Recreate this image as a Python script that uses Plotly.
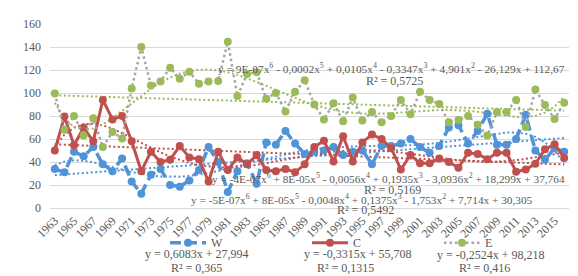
import numpy as np
import plotly.graph_objects as go

years = list(range(1963, 2017))

W = [34, 31, 49, 45, 53, 38, 32, 43, 23, 12.5, 29, 34, 20, 18.5, 24, 33, 53, 40, 14, 32,
     39, 21, 57, 55, 67, 56, 47, 49, 50, 53, 46, 49, 50, 38, 54, 54, 56, 60, 53, 48,
     54, 70, 72, 56, 67, 82, 55, 55, 60, 81, 50, 42, 52, 49]
C = [50, 79.5, 54.5, 70, 58, 94, 77, 80, 58, 32, 49, 40, 42, 54, 44, 42.5, 23, 49, 33, 44,
     38, 46, 33, 32, 34, 31, 38, 53, 58.5, 40.5, 62.5, 40.5, 57, 64, 60, 52, 33.5, 46, 39, 39,
     43, 40, 35, 48, 47, 42.5, 48, 48, 31.5, 33.5, 38.5, 51, 55.5, 43.5]
E = [99.5, 68, 80, 63, 78, 53, 66, 60.5, 104, 140, 106.5, 110, 122, 112.5, 118.5, 108, 110, 110.5, 144.5, 97.5,
     116.5, 118, 95, 100, 84, 101, 111, 90, 77, 91, 75.5, 96, 76, 83.5, 74.5, 80, 94, 81.5, 101, 94,
     90.5, 74.5, 76.5, 80, 72.5, 63, 83.5, 83.5, 94, 70.5, 103, 89.5, 77.5, 91.5]

# printed linear trend coefficients (slope, intercept), x = 1..54
lin_W = [0.6083, 27.994]
lin_C = [-0.3315, 55.708]
lin_E = [-0.2524, 98.218]

tick_years = years[::2]
y_ticks = [0, 20, 40, 60, 80, 100, 120, 140, 160]

BLUE = '#5093D6'
RED = '#C0504D'
GREEN = '#9BBB59'
GRAY = '#A6A6A6'
TXT = '#595959'
FONT = 'Liberation Serif'

xi = np.arange(1, len(years) + 1)

def poly6(vals):
    p = np.polynomial.Polynomial.fit(xi, vals, 6)
    return p(xi)

def lin(coef):
    return coef[0] * xi + coef[1]

fig = go.Figure()

# trendlines
for vals, coef, col in [(W, lin_W, BLUE), (C, lin_C, RED), (E, lin_E, GREEN)]:
    fig.add_trace(go.Scatter(x=years, y=lin(coef), mode='lines', showlegend=False,
                             line=dict(color=col, width=2, dash='2px,2.5px'), hoverinfo='skip'))
    fig.add_trace(go.Scatter(x=years, y=poly6(vals), mode='lines', showlegend=False,
                             line=dict(color=col, width=2, dash='2px,2.5px'), hoverinfo='skip'))

fig.add_trace(go.Scatter(x=years, y=W, name='W', mode='lines+markers', legend='legend',
                         line=dict(color=BLUE, width=3.5, dash='11px,5px'),
                         marker=dict(color=BLUE, size=8)))
fig.add_trace(go.Scatter(x=years, y=C, name='C', mode='lines+markers', legend='legend2',
                         line=dict(color=RED, width=3),
                         marker=dict(color=RED, size=8)))
fig.add_trace(go.Scatter(x=years, y=E, name='E', mode='lines+markers', legend='legend3',
                         line=dict(color=GRAY, width=2.5, dash='2.5px,3px'),
                         marker=dict(color=GREEN, size=8)))

L, R, T, B = 42, 17, 9, 76
W_PX, H_PX = 578 - L - R, 276 - T - B

def px(x):
    return (x - L) / W_PX

def py(y):
    return (276 - B - y) / H_PX

# (text, x, y, anchor, size, xshift)
ann = [
    ("y = 9E-07x<sup>6</sup> - 0,0002x<sup>5</sup> + 0,0105x<sup>4</sup> - 0,3347x<sup>3</sup> + 4,901x<sup>2</sup> - 26,129x + 112,67", 570, 54.7, 'right', 11.4, -11),
    ("R² = 0,5725", 386, 68.3, 'center', 12, 0),
    ("y = -4E-07x<sup>6</sup> + 8E-05x<sup>5</sup> - 0,0056x<sup>4</sup> + 0,1935x<sup>3</sup> - 3,0936x<sup>2</sup> + 18,299x + 37,764", 570, 169, 'right', 11.3, -11),
    ("R² = 0,5169", 384, 181.5, 'center', 12, 0),
    ("y = -5E-07x<sup>6</sup> + 8E-05x<sup>5</sup> - 0,0048x<sup>4</sup> + 0,1375x<sup>3</sup> - 1,753x<sup>2</sup> + 7,714x + 30,305", 538, 190.5, 'right', 11.3, -11),
    ("R² = 0,5492", 357, 202, 'center', 12, 0),
    ("y = 0,6083x + 27,994", 189, 248, 'center', 12, 0),
    ("R² = 0,365", 188, 262, 'center', 12, 0),
    ("y = -0,3315x + 55,708", 350, 248, 'center', 12, 0),
    ("R² = 0,1315", 337, 262, 'center', 12, 0),
    ("y = -0,2524x + 98,218", 483, 249, 'center', 12, 0),
    ("R² = 0,416", 476, 262.7, 'center', 12, 0),
]
for text, x, y, anc, fs, xs in ann:
    fig.add_annotation(text=text, x=px(x), y=py(y), xref='paper', yref='paper',
                       xanchor=anc, yanchor='middle', showarrow=False, xshift=xs,
                       font=dict(family=FONT, size=fs, color=TXT))

leg_common = dict(orientation='h', yanchor='middle', xanchor='left', bgcolor='rgba(0,0,0,0)',
                  font=dict(family=FONT, size=12, color=TXT), itemwidth=36)

fig.update_layout(
    width=578, height=276,
    margin=dict(l=L, r=R, t=T, b=B),
    paper_bgcolor='white', plot_bgcolor='white',
    font=dict(family=FONT, size=12, color=TXT),
    legend=dict(x=px(157), y=py(236), **leg_common),
    legend2=dict(x=px(299), y=py(236), **leg_common),
    legend3=dict(x=px(431), y=py(236), **leg_common),
    xaxis=dict(range=[1962.5, 2016.5], tickvals=tick_years, ticktext=[str(y) for y in tick_years],
               tickangle=-45, showgrid=False, zeroline=False, showline=True, linecolor='#D9D9D9',
               linewidth=1, ticks='', tickfont=dict(family=FONT, size=12, color=TXT)),
    yaxis=dict(range=[0, 160], tickvals=y_ticks, showgrid=True, gridcolor='#D9D9D9', gridwidth=1,
               zeroline=False, showline=False, ticks='', ticklabelstandoff=8,
               tickfont=dict(family=FONT, size=12, color=TXT)),
)

fig.write_html("out.html")
